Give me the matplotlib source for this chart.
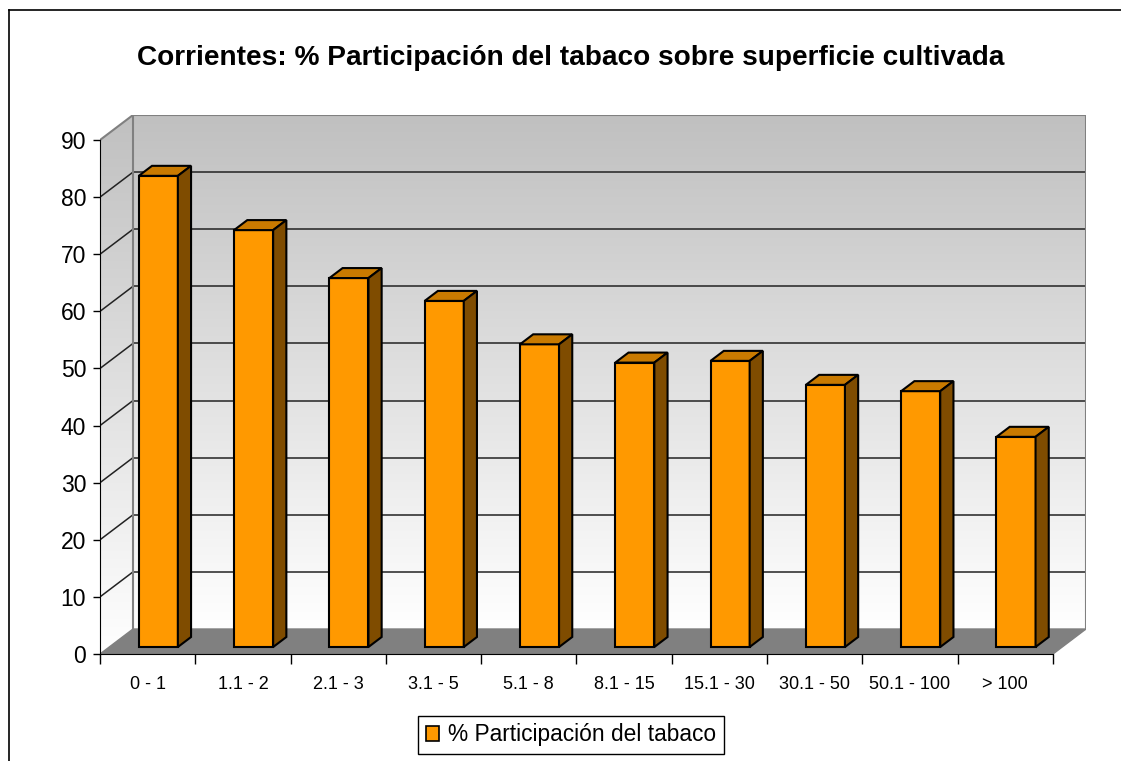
import matplotlib.pyplot as plt
import numpy as np
from matplotlib.patches import Polygon, Patch
from matplotlib.lines import Line2D
from matplotlib.colors import LinearSegmentedColormap

plt.rcParams['font.family'] = ['Liberation Sans', 'DejaVu Sans']

# datos
categorias = ['0 - 1', '1.1 - 2', '2.1 - 3', '3.1 - 5', '5.1 - 8', '8.1 - 15',
              '15.1 - 30', '30.1 - 50', '50.1 - 100', '> 100']
participacion = [82.5, 73.0, 64.6, 60.6, 53.0, 49.8, 50.1, 45.9, 44.8, 36.8]
yticks = [0, 10, 20, 30, 40, 50, 60, 70, 80, 90]
titulo = 'Corrientes: % Participación del tabaco sobre superficie cultivada'
serie = '% Participación del tabaco'

# geometria del efecto 3D (en pixeles de la figura)
W, H = 1121, 761
px_x = 95.3      # pixeles por categoria
px_y = 5.711     # pixeles por unidad
ddx = 33 / px_x  # profundidad en x
ddy = 25 / px_y  # profundidad en y
f0, f1 = 0.28, 0.68  # frente y fondo de las barras
ancho = 0.41
n = len(categorias)
ymax = yticks[-1]

fig = plt.figure(figsize=(W / 100, H / 100), dpi=100)
ax = fig.add_axes([100 / W, (H - 654) / H, (n + ddx) * px_x / W, (ymax + ddy) * px_y / H])

# paredes con degradado
cmap = LinearSegmentedColormap.from_list('pared', ['#ffffff', '#c0c0c0'])
grad = np.linspace(0, 1, 256).reshape(-1, 1)
ax.imshow(grad, extent=[ddx, n + ddx, ddy, ymax + ddy], origin='lower',
          aspect='auto', cmap=cmap, zorder=0)
lado = Polygon([(0, 0), (ddx, ddy), (ddx, ymax + ddy), (0, ymax)], closed=True,
               facecolor='none', edgecolor='none')
ax.add_patch(lado)
im2 = ax.imshow(grad, extent=[0, ddx, 0, ymax + ddy], origin='lower',
                aspect='auto', cmap=cmap, zorder=0)
im2.set_clip_path(lado)

# lineas de grilla
for t in yticks[1:-1]:
    ax.plot([ddx, n + ddx], [t + ddy, t + ddy], color='#222222', lw=1.1, zorder=1)
    ax.plot([0, ddx], [t, t + ddy], color='#222222', lw=1.1, zorder=1)

# bordes de las paredes
ax.plot([0, ddx, n + ddx, n + ddx], [ymax, ymax + ddy, ymax + ddy, ddy],
        color='#808080', lw=1.5, zorder=1)
ax.plot([ddx, ddx], [ddy, ymax + ddy], color='#808080', lw=1.5, zorder=1)

# piso
piso = Polygon([(0, 0), (n, 0), (n + ddx, ddy), (ddx, ddy)], closed=True,
               facecolor='#808080', edgecolor='#808080', lw=1, zorder=2)
ax.add_patch(piso)

# barras
x = np.arange(n) + 0.5
xf = x + f0 * ddx + 0.015
base = f0 * ddy
ax.bar(xf, participacion, width=ancho, bottom=base, color='#FF9900',
       edgecolor='black', linewidth=1.5, zorder=3)
sx = (f1 - f0) * ddx
sy = (f1 - f0) * ddy
for xi, v in zip(xf, participacion):
    l, r = xi - ancho / 2, xi + ancho / 2
    top = base + v
    ax.add_patch(Polygon([(l, top), (r, top), (r + sx, top + sy), (l + sx, top + sy)],
                         closed=True, facecolor='#C97A00', edgecolor='black',
                         lw=1.5, zorder=3))
    ax.add_patch(Polygon([(r, base), (r + sx, base + sy), (r + sx, top + sy), (r, top)],
                         closed=True, facecolor='#7F4C00', edgecolor='black',
                         lw=1.5, zorder=3))

ax.set_xlim(0, n + ddx)
ax.set_ylim(0, ymax + ddy)

# ejes
for s in ['top', 'right']:
    ax.spines[s].set_visible(False)
ax.spines['left'].set_bounds(0, ymax)
ax.spines['bottom'].set_bounds(0, n)
ax.spines['left'].set_zorder(5)
ax.spines['bottom'].set_zorder(5)
ax.set_yticks(yticks)
ax.tick_params(axis='y', length=5, width=1, pad=5, labelsize=16.5)
ax.set_xticks(np.arange(n + 1))
ax.set_xticklabels([])
ax.tick_params(axis='x', which='major', length=7, width=1)
ax.set_xticks(x, minor=True)
ax.set_xticklabels(categorias, minor=True)
ax.tick_params(axis='x', which='minor', length=0, pad=16, labelsize=13)

fig.text(571 / W, 1 - 58 / H, titulo, ha='center', va='center',
         fontsize=20.2, fontweight='bold')

leg = fig.legend([Patch(facecolor='#FF9900', edgecolor='black', lw=1.2)], [serie],
                 loc='center', bbox_to_anchor=(571 / W, 1 - 735 / H),
                 fontsize=16.4, frameon=True, fancybox=False, framealpha=1,
                 handlelength=0.6, handleheight=0.6, handletextpad=0.4,
                 borderpad=0.35, borderaxespad=0)
leg.get_frame().set_edgecolor('black')
leg.get_frame().set_linewidth(1)

# marco del grafico
fig.add_artist(Line2D([8.5 / W, 8.5 / W], [0, 1 - 9.5 / H], color='black', lw=1.2))
fig.add_artist(Line2D([8.5 / W, 1], [1 - 9.5 / H, 1 - 9.5 / H], color='black', lw=1.2))

fig.savefig('out.png', dpi=100)
